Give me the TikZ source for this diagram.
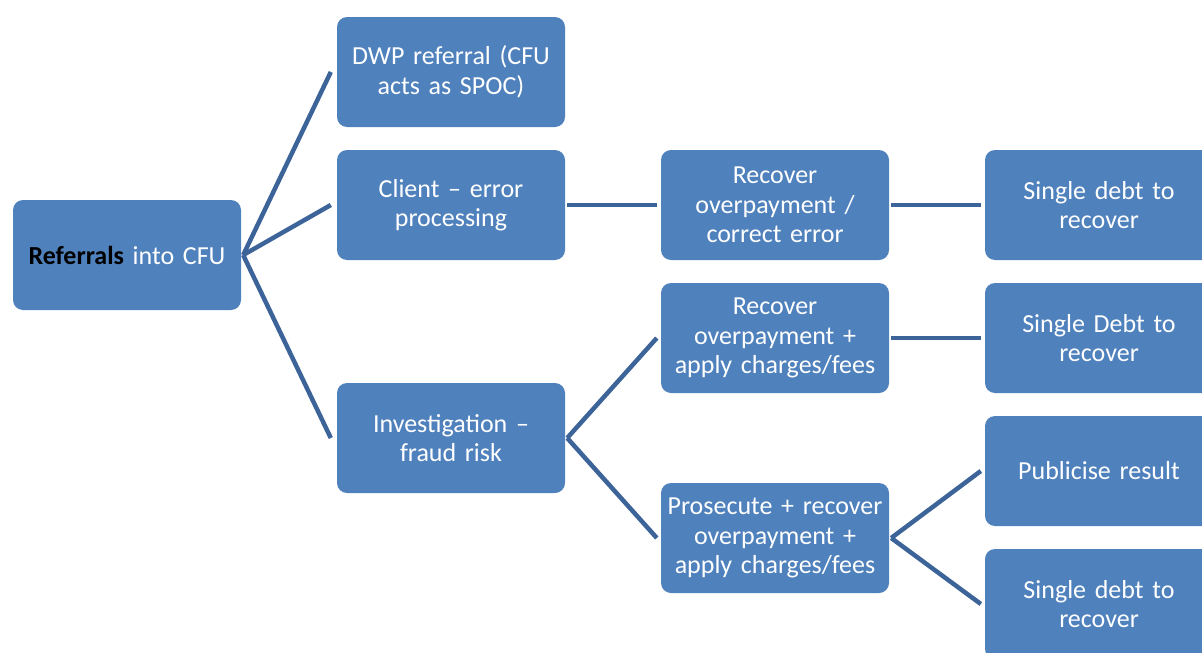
\documentclass[tikz,border=0pt]{standalone}
\usepackage{fontspec}
\setmainfont{Carlito}
\definecolor{boxblue}{HTML}{4F81BD}
\definecolor{lineblue}{HTML}{3D6499}
\begin{document}
\begin{tikzpicture}[x=1pt,y=-1pt,
  box/.style={draw=none,fill=boxblue,rounded corners=10pt,minimum width=228pt,minimum height=110pt,
    text=white,align=center,text width=222pt,inner sep=0pt,
    font=\fontsize{26}{29.5}\selectfont},
  conn/.style={draw=lineblue,line width=4.5pt}]
\useasboundingbox (0,0) rectangle (1202,653);
\clip (0,0) rectangle (1202,653);
\node[box] (root) at (127,255) {\textcolor{black}{\textbf{Referrals}} into CFU};
\node[box] (dwp) at (451,72) {DWP referral (CFU\\acts as SPOC)};
\node[box] (client) at (451,205) {Client -- error\\processing};
\node[box] (inv) at (451,438) {Investigation --\\fraud risk};
\node[box] (rec1) at (775,205) {Recover\\overpayment /\\correct error};
\node[box] (rec2) at (775,338) {Recover\\overpayment +\\apply charges/fees};
\node[box] (pros) at (775,538) {Prosecute + recover\\overpayment +\\apply charges/fees};
\node[box] (sd1) at (1099,205) {Single debt to\\recover};
\node[box] (sd2) at (1099,338) {Single Debt to\\recover};
\node[box] (pub) at (1099,471) {Publicise result};
\node[box] (sd3) at (1099,604) {Single debt to\\recover};
\coordinate (r0) at ([xshift=2pt]root.east);
\draw[conn] (r0) -- ([xshift=-6pt]dwp.west);
\draw[conn] (r0) -- ([xshift=-6pt]client.west);
\draw[conn] (r0) -- ([xshift=-6pt]inv.west);
\draw[conn] ([xshift=2pt]client.east) -- ([xshift=-4pt]rec1.west);
\draw[conn] ([xshift=2pt]rec1.east) -- ([xshift=-4pt]sd1.west);
\coordinate (i0) at ([xshift=2pt]inv.east);
\draw[conn] (i0) -- ([xshift=-4pt]rec2.west);
\draw[conn] (i0) -- ([xshift=-4pt]pros.west);
\draw[conn] ([xshift=2pt]rec2.east) -- ([xshift=-4pt]sd2.west);
\coordinate (p0) at ([xshift=2pt]pros.east);
\draw[conn] (p0) -- ([xshift=-4pt]pub.west);
\draw[conn] (p0) -- ([xshift=-4pt]sd3.west);
\end{tikzpicture}
\end{document}
